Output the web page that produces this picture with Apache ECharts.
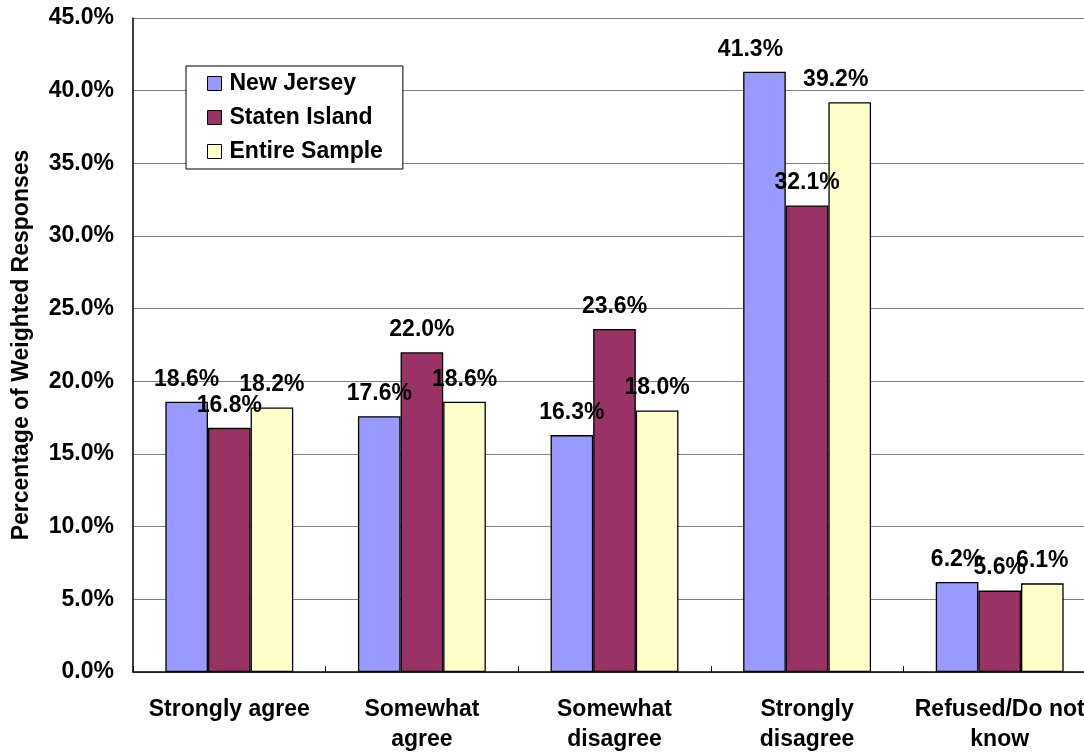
<!DOCTYPE html>
<html>
<head>
<meta charset="utf-8">
<script src="https://cdn.jsdelivr.net/npm/echarts@6/dist/echarts.min.js"></script>
<style>
  html, body { margin: 0; padding: 0; background: #fff; }
  #chart { width: 1084px; height: 752px; }
</style>
</head>
<body>
<div id="chart"></div>
<script>
// data
const categories = ['Strongly agree', 'Somewhat\nagree', 'Somewhat\ndisagree', 'Strongly\ndisagree', 'Refused/Do not\nknow'];
const newJersey = [18.6, 17.6, 16.3, 41.3, 6.2];
const statenIsland = [16.8, 22.0, 23.6, 32.1, 5.6];
const entireSample = [18.2, 18.6, 18.0, 39.2, 6.1];
const seriesNames = ['New Jersey', 'Staten Island', 'Entire Sample'];
const colors = ['#9999FF', '#993366', '#FFFFCC'];

const font = 'Arial, "Liberation Sans", sans-serif';
const fs = 23;

// a couple of labels sit a bit left of their bar in the original
const labelShift = { 0: { 3: -14 }, 2: { 3: -14 } };

const makeSeries = (idx, data) => {
  return {
    name: seriesNames[idx],
    type: 'bar',
    data: data.map((v, i) => {
      const dx = labelShift[idx] && labelShift[idx][i];
      return dx ? { value: v, label: { offset: [dx, 0] } } : v;
    }),
    barGap: '0%',
    barCategoryGap: '33.6%',
    itemStyle: { color: colors[idx], borderColor: '#000', borderWidth: 1.3 },
    label: {
      show: true,
      position: 'top',
      distance: 11,
      formatter: p => p.value.toFixed(1) + '%',
      fontFamily: font,
      fontWeight: 'bold',
      fontSize: fs,
      color: '#000'
    }
  };
};

const chart = echarts.init(document.getElementById('chart'));
chart.setOption({
  animation: false,
  backgroundColor: '#fff',
  grid: { left: 133, top: 18, width: 963, bottom: 80, outerBoundsMode: 'none', containLabel: false },
  legend: {
    orient: 'vertical',
    left: 186,
    top: 66,
    padding: [6, 20, 6, 21],
    itemGap: 11,
    itemWidth: 14,
    itemHeight: 14,
    backgroundColor: '#fff',
    borderColor: '#000',
    borderWidth: 1,
    borderRadius: 0,
    data: seriesNames.map(n => ({ name: n, icon: 'rect' })),
    itemStyle: { borderColor: '#000', borderWidth: 1 },
    textStyle: { fontFamily: font, fontWeight: 'bold', fontSize: fs, color: '#000', padding: [0, 0, 0, 3] }
  },
  xAxis: {
    type: 'category',
    data: categories,
    axisLine: { lineStyle: { color: '#000', width: 1.5 } },
    axisTick: { show: true, inside: true, length: 6, lineStyle: { color: '#000' } },
    axisLabel: {
      margin: 23,
      interval: 0,
      fontFamily: font,
      fontWeight: 'bold',
      fontSize: fs,
      lineHeight: 30,
      color: '#000'
    }
  },
  yAxis: {
    type: 'value',
    min: 0,
    max: 45,
    interval: 5,
    name: 'Percentage of Weighted Responses',
    nameLocation: 'middle',
    nameGap: 100,
    nameTextStyle: { fontFamily: font, fontWeight: 'bold', fontSize: fs, color: '#000' },
    axisLine: { show: true, lineStyle: { color: '#000', width: 1.5 } },
    axisTick: { show: false },
    splitLine: { lineStyle: { color: '#808080', width: 1 } },
    axisLabel: {
      margin: 19,
      formatter: v => v.toFixed(1) + '%',
      fontFamily: font,
      fontWeight: 'bold',
      fontSize: fs,
      color: '#000'
    }
  },
  series: [
    makeSeries(0, newJersey),
    makeSeries(1, statenIsland),
    makeSeries(2, entireSample)
  ]
});

window.addEventListener('resize', function () {
  chart.resize();
});
</script>
</body>
</html>
